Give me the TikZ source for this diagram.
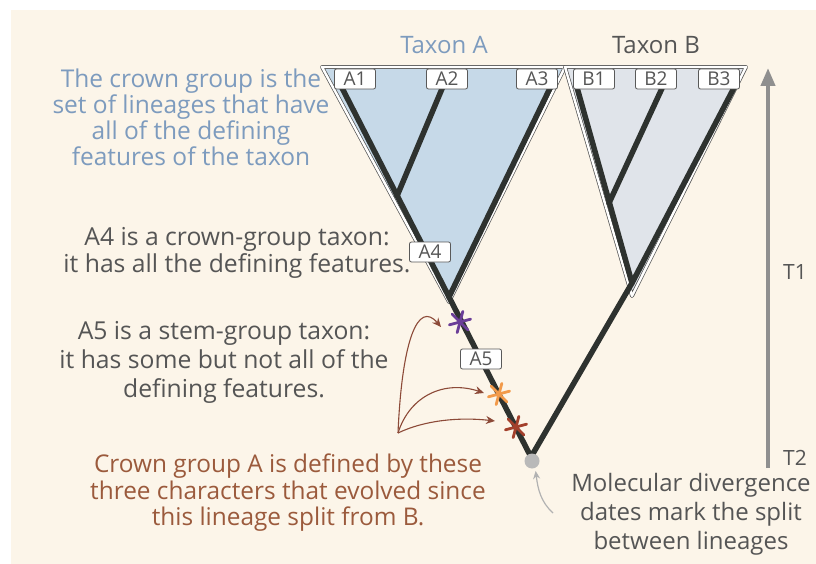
\documentclass[tikz,border=0pt]{standalone}
\usepackage{fontspec}
\setmainfont{Open Sans}
\usetikzlibrary{arrows.meta}

\definecolor{paper}{HTML}{FCF5E9}
\definecolor{cladeA}{HTML}{C6D9E8}
\definecolor{cladeB}{HTML}{E0E4EA}
\definecolor{branch}{HTML}{2E322F}
\definecolor{bluetxt}{HTML}{7D9BBE}
\definecolor{greytxt}{HTML}{555555}
\definecolor{browntxt}{HTML}{9B5A3C}
\definecolor{brownarr}{HTML}{8C4A38}
\definecolor{purplex}{HTML}{6B3E98}
\definecolor{orangex}{HTML}{F29A4A}
\definecolor{redx}{HTML}{A3402C}
\definecolor{timebar}{HTML}{8F8F8F}

\tikzset{
  tip/.style={draw=gray!70!black,fill=white,rounded corners=2pt,line width=0.8pt,minimum width=41pt,minimum height=20pt,inner sep=1pt,font=\fontsize{19}{19}\selectfont,text=greytxt},
  lineage/.style={draw=branch,line width=5.5pt,line cap=round,line join=round},
  clade/.style={draw=gray!65!black,line width=0.7pt,double=white,double distance=2.4pt,line join=round},
  note/.style={align=center,font=\fontsize{24.7}{27}\selectfont,text=greytxt},
  charrow/.style={draw=brownarr,line width=1.1pt,-{Stealth[length=9pt,width=8pt]}},
  charx/.pic={\foreach \a in {0,60,120} \draw[line width=2.8pt,line cap=round,rotate=\a+15] (-11,0) -- (11,0);}
}

\begin{document}
\begin{tikzpicture}[x=1pt,y=-1pt]
\useasboundingbox (0,0) rectangle (816,564);
\fill[white] (0,0) rectangle (816,564);
\fill[paper] (11,10) rectangle (816,564);

\filldraw[clade,fill=cladeA] (322,67) -- (565,67) -- (449,302) -- cycle;
\filldraw[clade,fill=cladeB] (565,67) -- (746,67) -- (632,296) -- cycle;

\coordinate (a1) at (340,84);
\coordinate (a2) at (444,84);
\coordinate (a3) at (552,84);
\coordinate (b1) at (576,84);
\coordinate (b2) at (664,84);
\coordinate (b3) at (736,84);
\coordinate (apexA) at (449,297);
\coordinate (apexB) at (632,283);
\coordinate (jA) at (397,196);
\coordinate (jB) at (609,203);
\coordinate (root) at (531,457);

\draw[lineage] (a1) -- (apexA) -- (root) -- (apexB) -- (b3);
\draw[lineage] (a2) -- (jA);
\draw[lineage] (a3) -- (apexA);
\draw[lineage] (b1) -- (apexB);
\draw[lineage] (b2) -- (jB);

\node[tip] (A1) at (355,79) {A1};
\node[tip] (A2) at (447,79) {A2};
\node[tip] (A3) at (537,79) {A3};
\node[tip] (B1) at (594,79) {B1};
\node[tip] (B2) at (656,79) {B2};
\node[tip] (B3) at (719,79) {B3};
\node[tip] (A4) at (430,252) {A4};
\node[tip] (A5) at (481,359) {A5};

\node[circle,fill=gray!55,inner sep=0pt,minimum size=15pt] (rootdot) at (532,461) {};

\coordinate (x1) at (460,322);
\coordinate (x2) at (499,394);
\coordinate (x3) at (516,427);
\pic[purplex] at (x1) {charx};
\pic[orangex] at (x2) {charx};
\pic[redx] at (x3) {charx};

\coordinate (fan) at (398,433);
\coordinate (h1) at (441,327);
\coordinate (h2) at (484,393);
\coordinate (h3) at (495,421);
\draw[charrow] (fan) .. controls (402,340) and (418,300) .. (h1);
\draw[charrow] (fan) .. controls (410,395) and (445,380) .. (h2);
\draw[charrow] (fan) .. controls (425,420) and (460,417) .. (h3);

\coordinate (datetail) at (553,513);
\draw[gray!60,line width=1.2pt,-{Stealth[length=8pt,width=7pt]},shorten >=3pt] (datetail) .. controls (541,502) and (538,490) .. (rootdot.-65);

\coordinate (tbase) at (768,468);
\coordinate (ttop) at (768,68);
\draw[timebar,line width=4pt,-{Triangle[length=18pt,width=14pt]}] (tbase) -- (ttop);
\node[text=greytxt,font=\fontsize{21}{21}\selectfont] (T1) at (795,272) {T1};
\node[text=greytxt,font=\fontsize{21}{21}\selectfont] (T2) at (795,458) {T2};

\node[font=\fontsize{24}{24}\selectfont,text=bluetxt] (taxA) at (444,45) {Taxon A};
\node[font=\fontsize{24}{24}\selectfont,text=greytxt] (taxB) at (656,45) {Taxon B};

\node[note,text=bluetxt,font=\fontsize{24.5}{26}\selectfont] (crownnote) at (191,117) {The crown group is the\\set of lineages that have\\all of the defining\\features of the taxon};
\node[note] (a4note) at (237,253) {A4 is a crown-group taxon:\\it has all the defining features.};
\node[note,font=\fontsize{24.7}{29}\selectfont] (a5note) at (224,362) {A5 is a stem-group taxon:\\it has some but not all of the\\defining features.};
\node[note,text=browntxt,font=\fontsize{24.4}{26.5}\selectfont] (charnote) at (288,493) {Crown group A is defined by these\\three characters that evolved since\\this lineage split from B.};
\node[note,font=\fontsize{24}{29}\selectfont] (datenote) at (691,514) {Molecular divergence\\dates mark the split\\between lineages};
\end{tikzpicture}
\end{document}
